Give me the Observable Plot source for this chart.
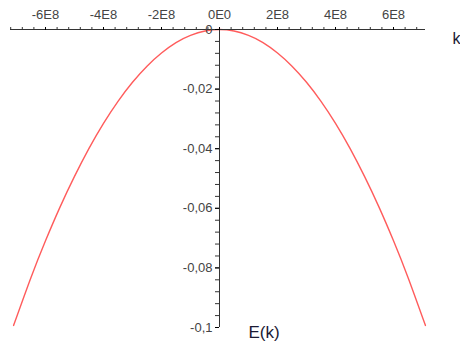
<!DOCTYPE html>
<html>
<head>
<meta charset="utf-8">
<script src="https://cdn.jsdelivr.net/npm/d3@7"></script>
<script src="https://cdn.jsdelivr.net/npm/@observablehq/plot@0.6"></script>
<style>
  html, body { margin: 0; padding: 0; background: #fff; }
  #chart svg { display: block; }
</style>
</head>
<body>
<div id="chart"></div>
<script>
// Curve samples (k in 1/m, E in arbitrary units)
const kValues = [-7.1e8, -6.5e8, -6e8, -5.5e8, -5e8, -4.5e8, -4e8, -3.5e8, -3e8, -2.5e8, -2e8, -1.5e8, -1e8, -0.5e8, 0,
                 0.5e8, 1e8, 1.5e8, 2e8, 2.5e8, 3e8, 3.5e8, 4e8, 4.5e8, 5e8, 5.5e8, 6e8, 6.5e8, 7.1e8];
const eValues = [-0.0993, -0.0832, -0.0709, -0.0596, -0.0493, -0.0399, -0.0315, -0.0241, -0.0177, -0.0123, -0.0079, -0.0044, -0.0020, -0.0005, 0,
                 -0.0005, -0.0020, -0.0044, -0.0079, -0.0123, -0.0177, -0.0241, -0.0315, -0.0399, -0.0493, -0.0596, -0.0709, -0.0832, -0.0993];
const xMajorTicks = [-6e8, -4e8, -2e8, 0, 2e8, 4e8, 6e8];
const xMajorLabels = ["-6E8", "-4E8", "-2E8", "0E0", "2E8", "4E8", "6E8"];
const xMinorTicks = [-7.2e8, -6.8e8, -6.4e8, -6e8, -5.6e8, -5.2e8, -4.8e8, -4.4e8, -4e8, -3.6e8, -3.2e8, -2.8e8, -2.4e8, -2e8, -1.6e8, -1.2e8, -0.8e8, -0.4e8, 0,
                     0.4e8, 0.8e8, 1.2e8, 1.6e8, 2e8, 2.4e8, 2.8e8, 3.2e8, 3.6e8, 4e8, 4.4e8, 4.8e8, 5.2e8, 5.6e8, 6e8, 6.4e8, 6.8e8];
const yMajorTicks = [0, -0.02, -0.04, -0.06, -0.08, -0.1];
const yMajorLabels = ["0", "-0,02", "-0,04", "-0,06", "-0,08", "-0,1"];
const yMinorTicks = [0, -0.004, -0.008, -0.012, -0.016, -0.02, -0.024, -0.028, -0.032, -0.036, -0.04, -0.044, -0.048, -0.052, -0.056, -0.06,
                     -0.064, -0.068, -0.072, -0.076, -0.08, -0.084, -0.088, -0.092, -0.096, -0.1];
const xAxisName = "k";
const yAxisName = "E(k)";

const data = kValues.map((k, i) => ({k, E: eValues[i]}));
const xLab = new Map(xMajorTicks.map((t, i) => [t, xMajorLabels[i]]));
const yLab = new Map(yMajorTicks.map((t, i) => [t, yMajorLabels[i]]));

const font = "Liberation Sans, Arial, sans-serif";
const plot = Plot.plot({
  width: 460,
  height: 350,
  marginLeft: 10,
  marginRight: 35,
  marginTop: 29,
  marginBottom: 23,
  style: {fontFamily: font, background: "#fff"},
  x: {domain: [-7.207e8, 7.103e8]},
  y: {domain: [-0.1, 0]},
  marks: [
    Plot.line(data, {x: "k", y: "E", stroke: "#ff5c5c", strokeWidth: 1.4, curve: "natural"}),
    Plot.ruleY([0], {stroke: "#333", strokeWidth: 1}),
    Plot.ruleX([0], {stroke: "#333", strokeWidth: 1}),
    Plot.axisX(xMinorTicks, {anchor: "top", tickSize: 3, text: null, stroke: "#333", label: null}),
    Plot.axisX(xMajorTicks, {anchor: "top", tickSize: 3, tickPadding: 8, tickFormat: d => xLab.get(d), fontSize: 13, fill: "#444", label: null}),
    Plot.axisY(yMinorTicks, {anchor: "left", dx: 209, tickSize: 4, text: null, stroke: "#333", label: null}),
    Plot.axisY(yMajorTicks, {anchor: "left", dx: 209, tickSize: 4, tickPadding: 3, tickFormat: d => yLab.get(d), fontSize: 13, fill: "#444", label: null}),
    Plot.text([xAxisName], {frameAnchor: "top-right", dx: 27, dy: 3, fontSize: 16, fill: "#1a1a33", textAnchor: "start"}),
    Plot.text([yAxisName], {frameAnchor: "bottom", dx: 46, dy: 10, fontSize: 17, fill: "#1a1a33"})
  ]
});
document.getElementById("chart").appendChild(plot);
</script>
</body>
</html>
